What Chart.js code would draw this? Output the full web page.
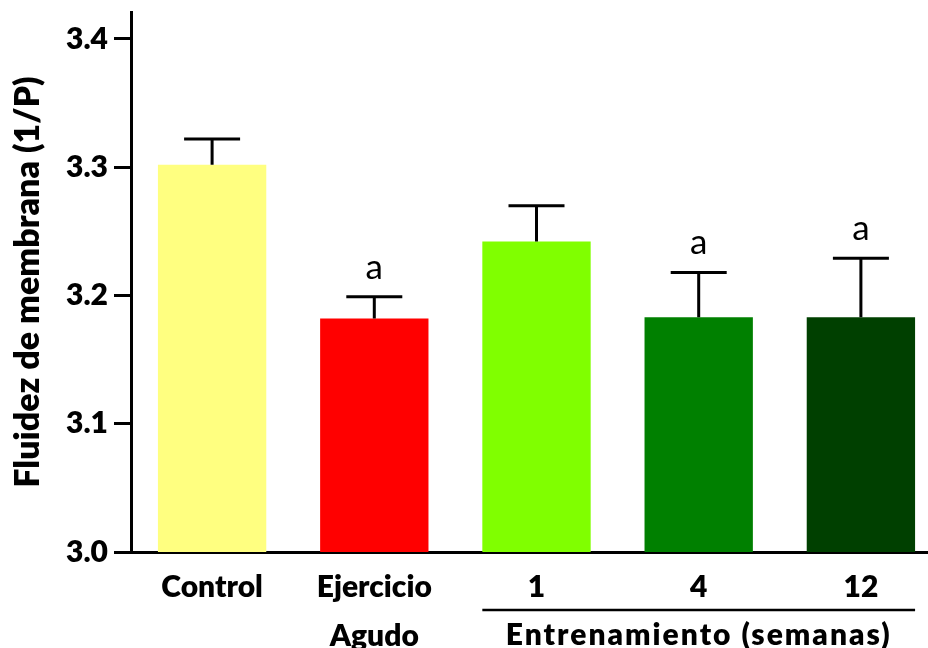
<!DOCTYPE html>
<html>
<head>
<meta charset="utf-8">
<script src="https://cdn.jsdelivr.net/npm/chart.js@4/dist/chart.umd.min.js"></script>
<style>
  html, body { margin: 0; padding: 0; background: #fff; overflow: hidden; }
  #wrap { width: 950px; height: 648px; position: relative; }
</style>
</head>
<body>
<div id="wrap"><canvas id="c" width="950" height="648"></canvas></div>
<script>
// Membrane fluidity (1/P) per group, with upper SEM bars
const categories = [['Control'], ['Ejercicio', 'Agudo'], ['1'], ['4'], ['12']];
const means = [3.302, 3.182, 3.242, 3.183, 3.183];
const sem = [0.020, 0.017, 0.028, 0.035, 0.046];
const signif = ['', 'a', '', 'a', 'a'];
const barColors = ['#FFFF80', '#FF0000', '#80FF00', '#008000', '#004000'];
const yTicks = [3.0, 3.1, 3.2, 3.3, 3.4];
const groupTitle = 'Entrenamiento (semanas)';
const yTitle = 'Fluidez de membrana (1/P)';

const FONT = 'Lato';
const HEAVY = '800';

// error bars, significance letters and the training-group bracket
const annotations = {
  id: 'annotations',
  afterDatasetsDraw(chart) {
    const ctx = chart.ctx;
    const y = chart.scales.y;
    const x = chart.scales.x;
    const bars = chart.getDatasetMeta(0).data;
    ctx.save();
    ctx.strokeStyle = '#000';
    ctx.lineWidth = 3;
    ctx.lineCap = 'butt';
    bars.forEach((bar, i) => {
      const yTop = y.getPixelForValue(means[i] + sem[i]);
      const yBar = y.getPixelForValue(means[i]);
      const half = 28;
      ctx.beginPath();
      ctx.moveTo(bar.x, yBar);
      ctx.lineTo(bar.x, yTop);
      ctx.moveTo(bar.x - half, yTop);
      ctx.lineTo(bar.x + half, yTop);
      ctx.stroke();
      if (signif[i]) {
        ctx.fillStyle = '#000';
        ctx.font = '35px ' + FONT;
        ctx.textAlign = 'center';
        ctx.textBaseline = 'alphabetic';
        ctx.fillText(signif[i], bar.x, yTop - 18);
      }
    });
    // bracket under the training groups
    const first = bars[2], last = bars[4];
    const left = first.x - first.width / 2;
    const right = last.x + last.width / 2;
    ctx.lineWidth = 2.5;
    ctx.beginPath();
    ctx.moveTo(left, 610);
    ctx.lineTo(right, 610);
    ctx.stroke();
    ctx.fillStyle = '#000';
    ctx.font = HEAVY + ' 30px ' + FONT;
    ctx.letterSpacing = '2px';
    ctx.textAlign = 'center';
    ctx.textBaseline = 'alphabetic';
    ctx.fillText(groupTitle, x.getPixelForValue(3), 645);
    ctx.restore();
  }
};

function build() {
  new Chart(document.getElementById('c'), {
    type: 'bar',
    data: {
      labels: categories,
      datasets: [{
        data: means,
        backgroundColor: barColors,
        borderWidth: 0,
        barPercentage: 0.668,
        categoryPercentage: 1.0
      }]
    },
    options: {
      responsive: false,
      animation: false,
      events: [],
      layout: { padding: { top: 12, right: 8, left: 0, bottom: 0 } },
      plugins: { legend: { display: false }, tooltip: { enabled: false } },
      scales: {
        x: {
          grid: { display: false, drawTicks: false },
          border: { display: true, color: '#000', width: 3 },
          ticks: {
            color: '#000',
            padding: 11,
            maxRotation: 0,
            autoSkip: false,
            font: { family: FONT, size: 30, weight: HEAVY, lineHeight: 1.64 }
          },
          afterFit(s) { s.height = 96; s.paddingLeft = 0; s.paddingRight = 0; }
        },
        y: {
          min: 3.0,
          max: 3.421,
          grid: { drawOnChartArea: false, drawTicks: true, tickLength: 17, color: '#000', lineWidth: 3 },
          border: { display: true, color: '#000', width: 3 },
          afterBuildTicks(s) { s.ticks = yTicks.map(v => ({ value: v })); },
          ticks: {
            color: '#000',
            padding: 6,
            font: { family: FONT, size: 30, weight: HEAVY },
            callback: v => Number(v).toFixed(1)
          },
          title: {
            display: true,
            text: yTitle,
            color: '#000',
            padding: { top: 8, bottom: 0 },
            font: { family: FONT, size: 34, weight: HEAVY }
          },
          afterFit(s) { s.width = 131; s.paddingTop = 0; s.paddingBottom = 0; }
        }
      }
    },
    plugins: [annotations]
  });
}

Promise.all([
  document.fonts.load(HEAVY + ' 30px Lato'),
  document.fonts.load('35px Lato')
]).then(build, build);
</script>
</body>
</html>
